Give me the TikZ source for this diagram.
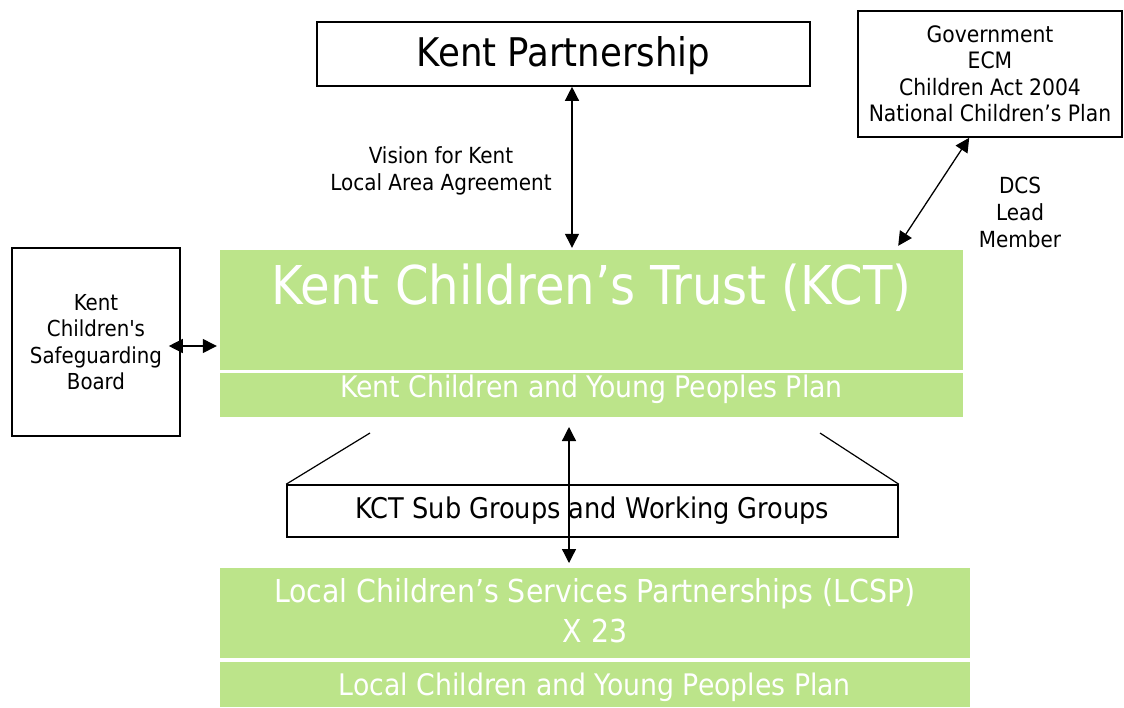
\documentclass[tikz,border=0pt]{standalone}
\usepackage{fontspec}
\setmainfont{DejaVu Sans Condensed}[Ligatures=TeXOff]
\newfontfamily\greenfont{DejaVu Sans Condensed}[Ligatures=TeXOff]
\usetikzlibrary{arrows.meta,calc}
\definecolor{kgreen}{HTML}{BCE48A}
\begin{document}
\begin{tikzpicture}[x=1pt,y=-1pt,
  blackbox/.style={draw=black, line width=1.6pt, fill=white, inner sep=0pt, align=center},
  greenbox/.style={fill=kgreen, inner sep=0pt},
  greentext/.style={text=white, font=\greenfont\fontsize{29.7}{40}\selectfont, align=center, inner sep=0pt},
  plain/.style={align=center, inner sep=0pt, font=\fontsize{22.2}{27}\selectfont},
  dbl/.style={line width=1.3pt, {Triangle[length=14pt,width=14pt]}-{Triangle[length=14pt,width=14pt]}},
  conn/.style={line width=1.2pt}
]
\useasboundingbox (0,0) rectangle (1124,707);
% boxes
\node[blackbox, minimum width=493pt, minimum height=64pt, font=\fontsize{39.5}{44}\selectfont] (kp) at (563.5,54) {};
\node[inner sep=0pt, font=\fontsize{39.5}{44}\selectfont] (kptext) at (563.5,56) {Kent Partnership};
\node[blackbox, minimum width=264pt, minimum height=126pt, font=\fontsize{22.6}{26.5}\selectfont] (gov) at (990,74) {Government\\ECM\\Children Act 2004\\National Children’s Plan};
\node[blackbox, minimum width=168pt, minimum height=188pt, font=\fontsize{22}{26.4}\selectfont] (sg) at (96,342) {Kent\\Children's\\Safeguarding\\Board};
\node[greenbox, minimum width=743pt, minimum height=120pt] (kct) at (591.5,310) {};
\node[greentext, font=\greenfont\fontsize{53.5}{60}\selectfont] (kcttext) at (591.5,288) {Kent Children’s Trust (KCT)};
\node[greenbox, minimum width=743pt, minimum height=44pt] (kctplan) at (591.5,395) {};
\node[greentext] (kctplantext) at (591.5,389) {Kent Children and Young Peoples Plan};
\node[blackbox, minimum width=611pt, minimum height=52pt, font=\fontsize{28.5}{32}\selectfont] (sub) at (592.5,511) {KCT Sub Groups and Working Groups};
\node[greenbox, minimum width=750pt, minimum height=90pt] (lcsp) at (595,613) {};
\node[greentext, font=\greenfont\fontsize{31.6}{40}\selectfont] (lcsptext) at (595,611) {Local Children’s Services Partnerships (LCSP)\\X 23};
\node[greenbox, minimum width=750pt, minimum height=45pt] (lcspplan) at (595,684.5) {};
\node[greentext] (lcspplantext) at (595,687) {Local  Children and Young Peoples Plan};
% labels
\node[plain] (vision) at (441,171) {Vision for Kent\\Local Area Agreement};
\node[plain] (dcs) at (1020,212) {DCS\\Lead\\Member};
% connectors
\coordinate (kpa) at ($(kp.south)+(8.5,0)$);
\draw[dbl] (kpa) -- ($(kpa |- kct.north)+(0,-2)$);
\draw[dbl] ($(gov.south west)+(112,0)$) -- ($(kct.north east)+(-65,-4)$);
\coordinate (sga) at ($(sg.east)+(-12,4)$);
\draw[dbl] (sga) -- ($(sga -| kct.west)+(-3,0)$);
\coordinate (l1) at (370,433);
\coordinate (l2) at (820,433);
\draw[conn] (l1) -- (sub.north west);
\draw[conn] (l2) -- (sub.north east);
\coordinate (va) at (569,427);
\coordinate (vb) at (569,563);
\draw[dbl] (va) -- (vb);
\end{tikzpicture}
\end{document}
